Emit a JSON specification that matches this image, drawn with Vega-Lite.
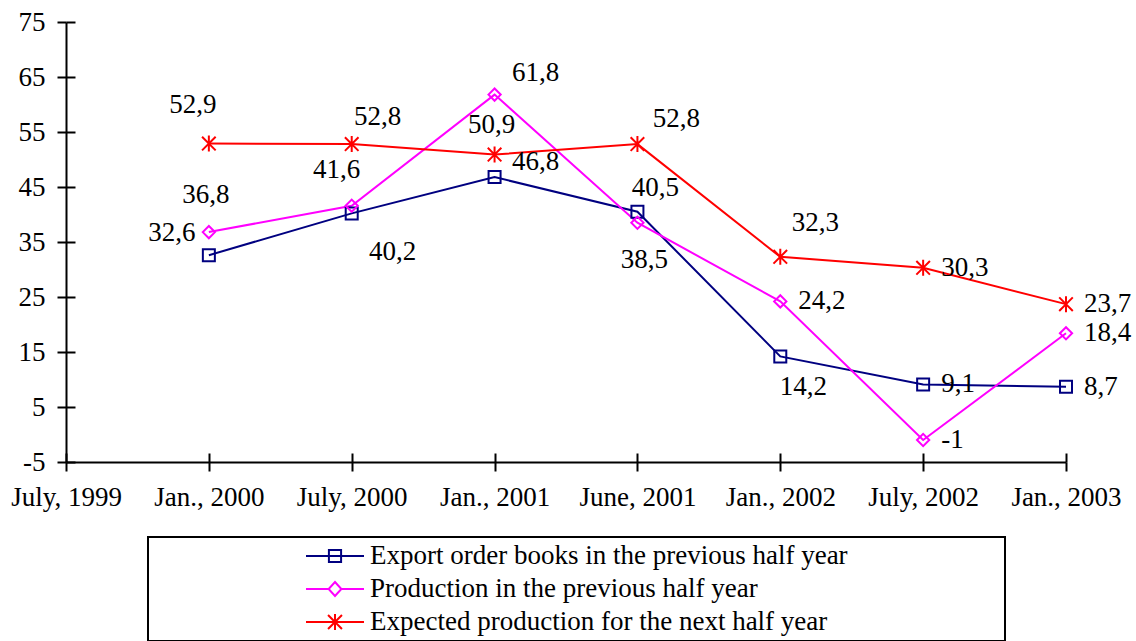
{
  "$schema": "https://vega.github.io/schema/vega-lite/v6.json",
  "width": 1000,
  "height": 440,
  "autosize": "none",
  "padding": {"left": 66, "top": 22, "right": 70, "bottom": 179},
  "config": {
    "font": "Liberation Serif",
    "view": {"stroke": null},
    "text": {"font": "Liberation Serif"},
    "axis": {"labelFont": "Liberation Serif", "labelFontSize": 27, "labelColor": "black", "domainColor": "black", "tickColor": "black", "domainWidth": 2, "tickWidth": 2, "grid": false},
    "legend": {"strokeWidth": 2},
    "locale": {"number": {"decimal": ",", "thousands": ".", "grouping": [3], "currency": ["", " €"], "minus": "-"}}
  },
  "data": {
    "values": [
      {"date": "Jan., 2000", "series": "Export order books in the previous half year", "value": 32.6},
      {"date": "July, 2000", "series": "Export order books in the previous half year", "value": 40.2},
      {"date": "Jan., 2001", "series": "Export order books in the previous half year", "value": 46.8},
      {"date": "June, 2001", "series": "Export order books in the previous half year", "value": 40.5},
      {"date": "Jan., 2002", "series": "Export order books in the previous half year", "value": 14.2},
      {"date": "July, 2002", "series": "Export order books in the previous half year", "value": 9.1},
      {"date": "Jan., 2003", "series": "Export order books in the previous half year", "value": 8.7},
      {"date": "Jan., 2000", "series": "Production in the previous half year", "value": 36.8},
      {"date": "July, 2000", "series": "Production in the previous half year", "value": 41.6},
      {"date": "Jan., 2001", "series": "Production in the previous half year", "value": 61.8},
      {"date": "June, 2001", "series": "Production in the previous half year", "value": 38.5},
      {"date": "Jan., 2002", "series": "Production in the previous half year", "value": 24.2},
      {"date": "July, 2002", "series": "Production in the previous half year", "value": -1},
      {"date": "Jan., 2003", "series": "Production in the previous half year", "value": 18.4},
      {"date": "Jan., 2000", "series": "Expected production for the next half year", "value": 52.9},
      {"date": "July, 2000", "series": "Expected production for the next half year", "value": 52.8},
      {"date": "Jan., 2001", "series": "Expected production for the next half year", "value": 50.9},
      {"date": "June, 2001", "series": "Expected production for the next half year", "value": 52.8},
      {"date": "Jan., 2002", "series": "Expected production for the next half year", "value": 32.3},
      {"date": "July, 2002", "series": "Expected production for the next half year", "value": 30.3},
      {"date": "Jan., 2003", "series": "Expected production for the next half year", "value": 23.7}
    ]
  },
  "layer": [
    {
      "encoding": {
        "x": {"field": "date", "type": "ordinal", "title": null,
          "scale": {"type": "point", "padding": 0, "domain": ["July, 1999", "Jan., 2000", "July, 2000", "Jan., 2001", "June, 2001", "Jan., 2002", "July, 2002", "Jan., 2003"]},
          "axis": {"orient": "bottom", "labelAngle": 0, "tickSize": 9, "labelPadding": 13, "domain": true, "ticks": true}},
        "y": {"field": "value", "type": "quantitative", "title": null,
          "scale": {"domain": [-5, 75], "nice": false, "zero": false},
          "axis": {"orient": "left", "values": [-5, 5, 15, 25, 35, 45, 55, 65, 75], "tickSize": 9, "labelPadding": 12, "domain": true, "ticks": true}}
      },
      "layer": [
        {
          "mark": {"type": "point", "filled": false, "opacity": 0},
          "encoding": {
            "color": {"field": "series", "type": "nominal",
              "scale": {"domain": ["Export order books in the previous half year", "Production in the previous half year", "Expected production for the next half year"], "range": ["#000080", "#FF00FF", "#FF0000"]},
              "legend": {"orient": "none", "legendX": 82, "legendY": 515, "title": " ", "titleOrient": "right", "titlePadding": 153, "titleFontSize": 27, "symbolOffset": 153, "labelOffset": 5, "clipHeight": 30, "rowPadding": 3, "padding": 4, "strokeColor": "black", "symbolSize": 3364, "symbolStrokeWidth": 2, "symbolOpacity": 1, "labelFontSize": 27, "labelFont": "Liberation Serif", "labelColor": "black", "labelLimit": 2000}},
            "shape": {"field": "series", "type": "nominal",
              "scale": {"domain": ["Export order books in the previous half year", "Production in the previous half year", "Expected production for the next half year"], "range": ["M-1,0H1M-0.21,-0.21H0.21V0.21H-0.21Z", "M-1,0H-0.22M0.22,0H1M0,-0.24L0.22,0L0,0.24L-0.22,0Z", "M-1,0H1M0,-0.28V0.28M-0.24,-0.24L0.24,0.24M-0.24,0.24L0.24,-0.24"]},
              "legend": {"orient": "none", "legendX": 82, "legendY": 515, "title": " ", "titleOrient": "right", "titlePadding": 153, "titleFontSize": 27, "symbolOffset": 153, "labelOffset": 5, "clipHeight": 30, "rowPadding": 3, "padding": 4, "strokeColor": "black", "symbolSize": 3364, "symbolStrokeWidth": 2, "symbolOpacity": 1, "labelFontSize": 27, "labelFont": "Liberation Serif", "labelColor": "black", "labelLimit": 2000}}
          }
        },
        {
          "mark": {"type": "line", "strokeWidth": 2},
          "encoding": {
            "color": {"field": "series", "type": "nominal", "legend": null},
            "order": {"value": null}
          }
        },
        {
          "transform": [{"filter": "indexof(datum.series, 'Export') == 0"}],
          "mark": {"type": "point", "shape": "square", "size": 144, "filled": false, "strokeWidth": 2, "opacity": 1},
          "encoding": {"color": {"field": "series", "type": "nominal", "legend": null}}
        },
        {
          "transform": [{"filter": "indexof(datum.series, 'Production') == 0"}],
          "mark": {"type": "point", "shape": "diamond", "size": 150, "filled": false, "strokeWidth": 2, "opacity": 1},
          "encoding": {"color": {"field": "series", "type": "nominal", "legend": null}}
        },
        {
          "transform": [{"filter": "indexof(datum.series, 'Expected') == 0"}],
          "mark": {"type": "point", "shape": "M0,-1V1M-0.85,-0.85L0.85,0.85M-0.85,0.85L0.85,-0.85", "size": 256, "filled": false, "strokeWidth": 2, "opacity": 1},
          "encoding": {"color": {"field": "series", "type": "nominal", "legend": null}}
        },
        {
          "transform": [{"filter": "indexof(datum.series, 'Export') == 0 && datum.date == 'Jan., 2000'"}],
          "mark": {"type": "text", "font": "Liberation Serif", "fontSize": 27, "color": "black", "align": "center", "baseline": "middle", "dx": -37, "dy": -22},
          "encoding": {"text": {"field": "value", "type": "quantitative", "format": "~g"}}
        },
        {
          "transform": [{"filter": "indexof(datum.series, 'Export') == 0 && datum.date == 'July, 2000'"}],
          "mark": {"type": "text", "font": "Liberation Serif", "fontSize": 27, "color": "black", "align": "center", "baseline": "middle", "dx": 41, "dy": 39},
          "encoding": {"text": {"field": "value", "type": "quantitative", "format": "~g"}}
        },
        {
          "transform": [{"filter": "indexof(datum.series, 'Export') == 0 && datum.date == 'Jan., 2001'"}],
          "mark": {"type": "text", "font": "Liberation Serif", "fontSize": 27, "color": "black", "align": "center", "baseline": "middle", "dx": 41, "dy": -15},
          "encoding": {"text": {"field": "value", "type": "quantitative", "format": "~g"}}
        },
        {
          "transform": [{"filter": "indexof(datum.series, 'Export') == 0 && datum.date == 'June, 2001'"}],
          "mark": {"type": "text", "font": "Liberation Serif", "fontSize": 27, "color": "black", "align": "center", "baseline": "middle", "dx": 18, "dy": -24},
          "encoding": {"text": {"field": "value", "type": "quantitative", "format": "~g"}}
        },
        {
          "transform": [{"filter": "indexof(datum.series, 'Export') == 0 && datum.date == 'Jan., 2002'"}],
          "mark": {"type": "text", "font": "Liberation Serif", "fontSize": 27, "color": "black", "align": "center", "baseline": "middle", "dx": 23, "dy": 31},
          "encoding": {"text": {"field": "value", "type": "quantitative", "format": "~g"}}
        },
        {
          "transform": [{"filter": "indexof(datum.series, 'Production') == 0 && datum.date == 'Jan., 2000'"}],
          "mark": {"type": "text", "font": "Liberation Serif", "fontSize": 27, "color": "black", "align": "center", "baseline": "middle", "dx": -3, "dy": -37},
          "encoding": {"text": {"field": "value", "type": "quantitative", "format": "~g"}}
        },
        {
          "transform": [{"filter": "indexof(datum.series, 'Production') == 0 && datum.date == 'July, 2000'"}],
          "mark": {"type": "text", "font": "Liberation Serif", "fontSize": 27, "color": "black", "align": "center", "baseline": "middle", "dx": -15, "dy": -36},
          "encoding": {"text": {"field": "value", "type": "quantitative", "format": "~g"}}
        },
        {
          "transform": [{"filter": "indexof(datum.series, 'Production') == 0 && datum.date == 'Jan., 2001'"}],
          "mark": {"type": "text", "font": "Liberation Serif", "fontSize": 27, "color": "black", "align": "center", "baseline": "middle", "dx": 41, "dy": -22},
          "encoding": {"text": {"field": "value", "type": "quantitative", "format": "~g"}}
        },
        {
          "transform": [{"filter": "indexof(datum.series, 'Production') == 0 && datum.date == 'June, 2001'"}],
          "mark": {"type": "text", "font": "Liberation Serif", "fontSize": 27, "color": "black", "align": "center", "baseline": "middle", "dx": 7, "dy": 37},
          "encoding": {"text": {"field": "value", "type": "quantitative", "format": "~g"}}
        },
        {
          "transform": [{"filter": "indexof(datum.series, 'Expected') == 0 && datum.date == 'Jan., 2000'"}],
          "mark": {"type": "text", "font": "Liberation Serif", "fontSize": 27, "color": "black", "align": "center", "baseline": "middle", "dx": -16, "dy": -39},
          "encoding": {"text": {"field": "value", "type": "quantitative", "format": "~g"}}
        },
        {
          "transform": [{"filter": "indexof(datum.series, 'Expected') == 0 && datum.date == 'July, 2000'"}],
          "mark": {"type": "text", "font": "Liberation Serif", "fontSize": 27, "color": "black", "align": "center", "baseline": "middle", "dx": 26, "dy": -27},
          "encoding": {"text": {"field": "value", "type": "quantitative", "format": "~g"}}
        },
        {
          "transform": [{"filter": "indexof(datum.series, 'Expected') == 0 && datum.date == 'Jan., 2001'"}],
          "mark": {"type": "text", "font": "Liberation Serif", "fontSize": 27, "color": "black", "align": "center", "baseline": "middle", "dx": -3, "dy": -30},
          "encoding": {"text": {"field": "value", "type": "quantitative", "format": "~g"}}
        },
        {
          "transform": [{"filter": "indexof(datum.series, 'Expected') == 0 && datum.date == 'June, 2001'"}],
          "mark": {"type": "text", "font": "Liberation Serif", "fontSize": 27, "color": "black", "align": "center", "baseline": "middle", "dx": 39, "dy": -25},
          "encoding": {"text": {"field": "value", "type": "quantitative", "format": "~g"}}
        },
        {
          "transform": [{"filter": "indexof(datum.series, 'Expected') == 0 && datum.date == 'Jan., 2002'"}],
          "mark": {"type": "text", "font": "Liberation Serif", "fontSize": 27, "color": "black", "align": "center", "baseline": "middle", "dx": 35, "dy": -34},
          "encoding": {"text": {"field": "value", "type": "quantitative", "format": "~g"}}
        },
        {
          "transform": [{"filter": "datum.date == 'Jan., 2003' || datum.date == 'July, 2002' || (indexof(datum.series, 'Production') == 0 && datum.date == 'Jan., 2002')"}],
          "mark": {"type": "text", "font": "Liberation Serif", "fontSize": 27, "color": "black", "align": "left", "baseline": "middle", "dx": 18, "dy": 0},
          "encoding": {"text": {"field": "value", "type": "quantitative", "format": "~g"}}
        }
      ]
    },
    {
      "mark": {"type": "point", "opacity": 0},
      "encoding": {
        "x": {"field": "date", "type": "ordinal", "title": null,
          "scale": {"type": "point", "padding": 0, "domain": ["July, 1999", "Jan., 2000", "July, 2000", "Jan., 2001", "June, 2001", "Jan., 2002", "July, 2002", "Jan., 2003"]},
          "axis": {"orient": "bottom", "offset": -9, "tickSize": 9, "labels": false, "domain": false, "ticks": true}},
        "y": {"field": "value", "type": "quantitative", "title": null,
          "scale": {"domain": [-5, 75], "nice": false, "zero": false},
          "axis": {"orient": "left", "offset": -9, "values": [-5, 5, 15, 25, 35, 45, 55, 65, 75], "tickSize": 9, "labels": false, "domain": false, "ticks": true}}
      }
    }
  ],
  "resolve": {"axis": {"x": "independent", "y": "independent"}}
}
